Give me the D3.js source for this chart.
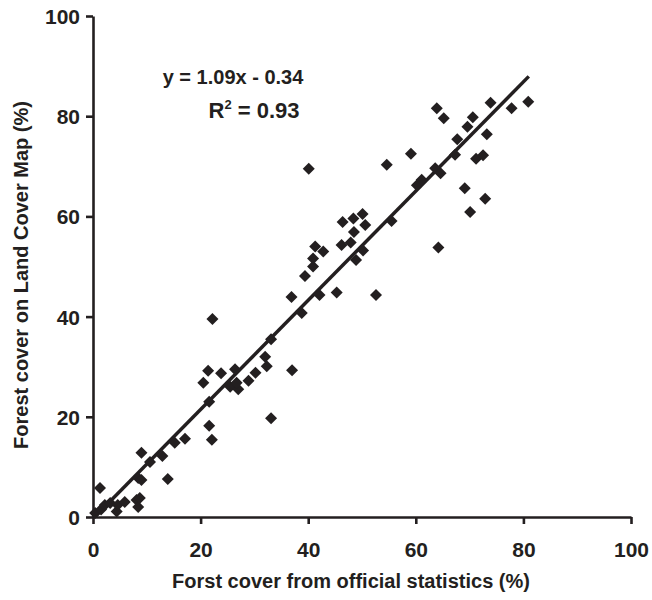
<!DOCTYPE html>
<html>
<head>
<meta charset="utf-8">
<script src="https://cdn.jsdelivr.net/npm/d3@7"></script>
<style>
  body { margin: 0; background: #fff; }
  svg { display: block; }
  text { font-family: "Liberation Sans", Arial, sans-serif; font-weight: bold; fill: #231f20; }
</style>
</head>
<body>
<svg id="chart" width="652" height="600"></svg>
<script>
// Data (x: official statistics %, y: Land Cover Map %)
const officialStats = [0.4,1.3,1.5,2.2,3.2,4.4,4.6,5.9,8.1,8.4,8.7,9.0,8.4,9.0,10.6,12.9,13.9,15.2,17.1,21.6,22.1,21.6,
  22.2,21.4,20.5,23.8,26.4,25.5,27.0,26.7,28.9,30.2,32.0,32.3,33.1,33.1,37.0,38.8,36.9,39.4,40.9,40.9,41.3,42.8,42.1,45.3,52.6,
  46.2,47.9,48.9,50.2,46.4,48.4,50.1,50.6,48.5,55.5,40.1,54.6,59.1,60.2,61.1,
  63.6,64.6,67.3,67.7,69.6,70.6,71.2,72.5,69.1,72.9,70.1,64.2,63.9,65.2,73.9,77.8,80.9,73.2];
const landCoverMap = [0.8,5.8,1.5,2.4,2.8,1.1,2.4,3.0,3.4,2.0,3.8,12.8,7.8,7.4,11.0,12.2,7.6,14.8,15.6,18.2,15.4,23.0,
  39.5,29.2,26.8,28.7,29.5,26.0,25.5,26.8,27.2,28.8,32.0,30.1,35.5,19.7,29.3,40.7,43.9,48.1,50.0,51.6,54.0,53.0,44.3,44.8,44.3,
  54.3,54.8,51.3,53.2,58.9,59.6,60.5,58.3,56.9,59.1,69.5,70.3,72.5,66.2,67.3,
  69.6,68.6,72.3,75.4,77.9,79.8,71.5,72.2,65.6,63.5,60.9,53.8,81.6,79.6,82.7,81.6,82.9,76.4];
const xTicks = [0, 20, 40, 60, 80, 100];
const yTicks = [0, 20, 40, 60, 80, 100];
const slope = 1.09, intercept = -0.34;
const fitRange = [0.31, 81.0];
const eqLabel = "y = 1.09x - 0.34";
const r2Value = "0.93";
const xTitle = "Forst cover from official statistics (%)";
const yTitle = "Forest cover on Land Cover Map (%)";

const points = officialStats.map((x, i) => ({x, y: landCoverMap[i]}));

const svg = d3.select("#chart");
const margin = {left: 93, top: 16, right: 21, bottom: 83};
const W = 652, H = 600;
const x = d3.scaleLinear().domain([0, 100]).range([margin.left, W - margin.right]);
const y = d3.scaleLinear().domain([0, 100]).range([H - margin.bottom, margin.top]);
const ink = "#231f20";

// Axes
const xAxis = svg.append("g").attr("transform", `translate(0,${y(0)})`)
  .call(d3.axisBottom(x).tickValues(xTicks).tickSize(7).tickPadding(18).tickSizeOuter(0));
const yAxis = svg.append("g").attr("transform", `translate(${x(0)},0)`)
  .call(d3.axisLeft(y).tickValues(yTicks).tickSize(7).tickPadding(6).tickSizeOuter(0));
[xAxis, yAxis].forEach(g => {
  g.select(".domain").attr("stroke", ink).attr("stroke-width", 2.6);
  g.selectAll(".tick line").attr("stroke", ink).attr("stroke-width", 2.6);
  g.selectAll(".tick text").attr("fill", ink).style("font-size", "21px")
    .style("font-family", '"Liberation Sans", Arial, sans-serif').style("font-weight", "bold");
});
yAxis.selectAll(".tick text").attr("dy", "0.36em");

// Regression line
svg.append("line")
  .attr("x1", x(fitRange[0])).attr("y1", y(slope * fitRange[0] + intercept))
  .attr("x2", x(fitRange[1])).attr("y2", y(slope * fitRange[1] + intercept))
  .attr("stroke", ink).attr("stroke-width", 3.5);

// Points (diamonds)
const sym = d3.symbol().type(d3.symbolSquare).size(72);
svg.append("g").selectAll("path").data(points).join("path")
  .attr("d", sym)
  .attr("transform", d => `translate(${x(d.x)},${y(d.y)}) rotate(45)`)
  .attr("fill", ink);

// Equation text
svg.append("text").attr("x", 233).attr("y", 84).attr("text-anchor", "middle")
  .style("font-size", "20px").text(eqLabel);
const r2 = svg.append("text").attr("x", 254).attr("y", 118).attr("text-anchor", "middle")
  .style("font-size", "22px");
r2.append("tspan").text("R");
r2.append("tspan").attr("dy", -9).style("font-size", "13px").text("2");
r2.append("tspan").attr("dy", 9).text(" = " + r2Value);

// Axis titles
svg.append("text").attr("x", 351).attr("y", 588).attr("text-anchor", "middle")
  .style("font-size", "20px").text(xTitle);
svg.append("text").attr("transform", `translate(28,275) rotate(-90)`).attr("text-anchor", "middle")
  .style("font-size", "20px").text(yTitle);
</script>
</body>
</html>
